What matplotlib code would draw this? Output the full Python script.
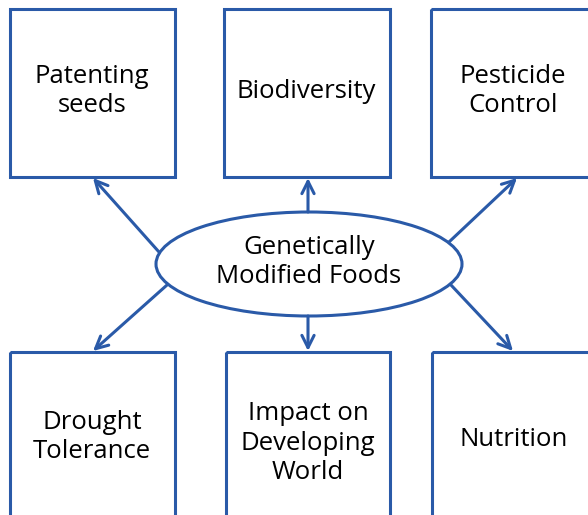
import matplotlib.pyplot as plt
from matplotlib.patches import Rectangle, Ellipse

plt.rcParams['font.family'] = ['Open Sans', 'DejaVu Sans']

center_label = "Genetically\nModified Foods"
box_labels = [
    "Patenting\nseeds",
    "Biodiversity",
    "Pesticide\nControl",
    "Drought\nTolerance",
    "Impact on\nDeveloping\nWorld",
    "Nutrition",
]

blue = '#2a5aa8'
lw = 2.2

# box layout in pixels: left, top, width, height
box_xy = [
    (10, 9, 165, 168),
    (224, 9, 166, 168),
    (431, 9, 170, 168),
    (10, 352, 165, 170),
    (226, 352, 164, 170),
    (432, 352, 170, 170),
]
# where the label sits in each box
text_xy = [(92, 91), (306, 91), (513, 91), (92, 437), (308, 443), (514, 440)]

# arrow start (on ellipse) and tip (on box edge)
arrows = [
    ((159, 252), (93, 178)),
    ((308, 212), (308, 178)),
    ((449, 242), (517, 178)),
    ((167, 285), (93, 351)),
    ((308, 316), (308, 351)),
    ((451, 285), (513, 351)),
]

fig = plt.figure(figsize=(5.88, 5.15), dpi=100)
ax = fig.add_axes([0, 0, 1, 1])
ax.set_xlim(0, 588)
ax.set_ylim(515, 0)
ax.axis('off')

for (x, y, w, h), (tx, ty), lab in zip(box_xy, text_xy, box_labels):
    ax.add_patch(Rectangle((x, y), w, h, fill=False, edgecolor=blue, lw=lw))
    ax.text(tx, ty, lab, ha='center', va='center',
            fontsize=18.5, linespacing=1.22, color='black')

ax.add_patch(Ellipse((309, 264), 306, 104, facecolor='white', edgecolor=blue, lw=lw))
ax.text(309, 262, center_label, ha='center', va='center', fontsize=18.5,
        linespacing=1.22, color='black')

for (x0, y0), (x1, y1) in arrows:
    ax.annotate('', xy=(x1, y1), xytext=(x0, y0),
                arrowprops=dict(arrowstyle='->', color=blue, lw=lw,
                                mutation_scale=22, shrinkA=0, shrinkB=0))

fig.savefig('out.png', dpi=100)
